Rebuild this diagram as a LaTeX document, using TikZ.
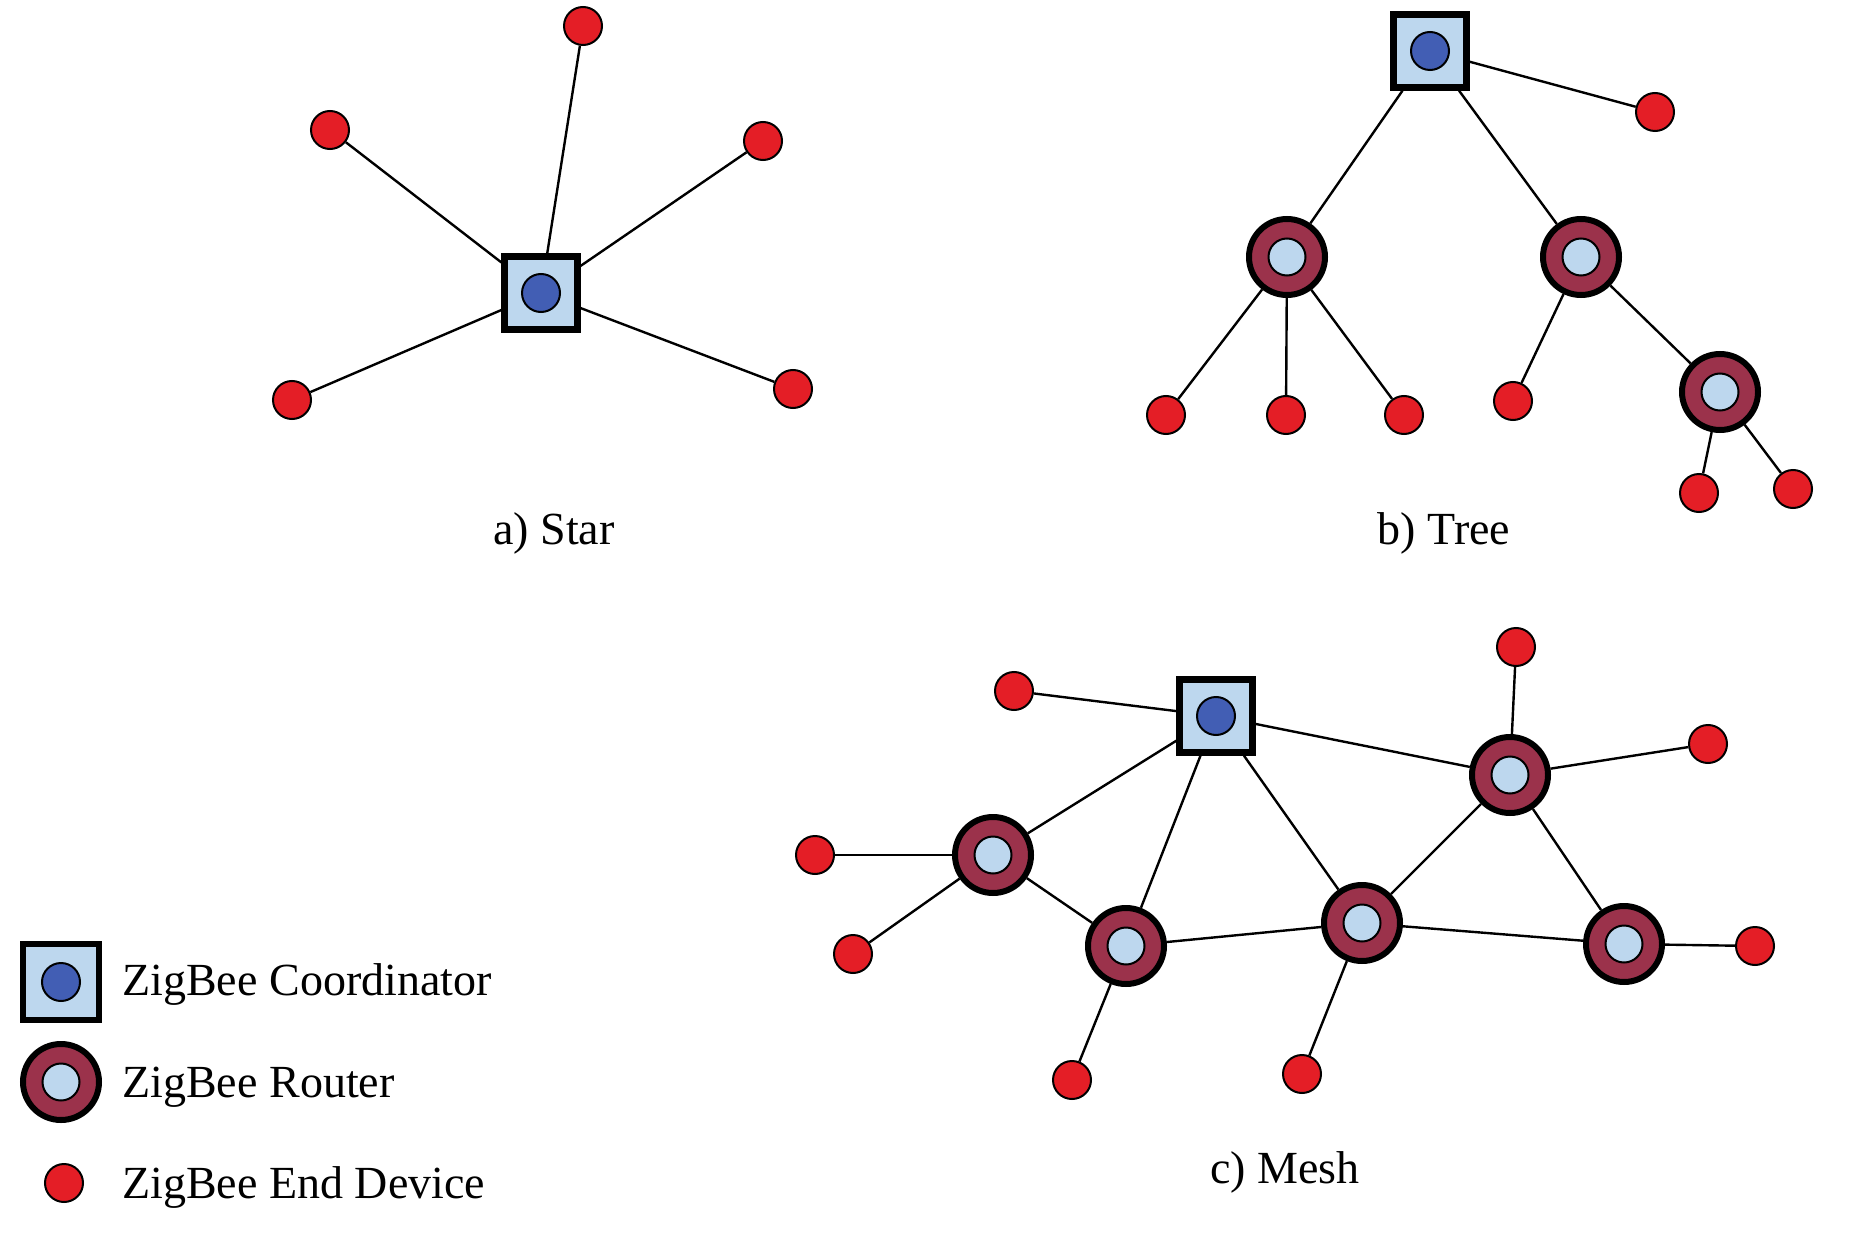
\documentclass[tikz,border=0pt]{standalone}
\usepackage{fontspec}
\setmainfont{Liberation Serif}
\usetikzlibrary{backgrounds}
\definecolor{zbpale}{RGB}{189,215,238}
\definecolor{zbblue}{RGB}{66,94,180}
\definecolor{zbwine}{RGB}{155,50,75}
\definecolor{zbred}{RGB}{228,30,38}

\begin{document}
\begin{tikzpicture}[
      x=0.5pt,y=-0.5pt,
      every node/.style={inner sep=0pt},
      zbcoord/.style={draw,line width=3.2pt,fill=zbpale,minimum size=36.5pt,
        path picture={\draw[line width=1pt,fill=zbblue]
          (path picture bounding box.center) circle (9.5pt);}},
      router/.style={circle,draw,line width=3pt,fill=zbwine,minimum size=38pt,
        path picture={\draw[line width=1pt,fill=zbpale]
          (path picture bounding box.center) circle (9.25pt);}},
      enddev/.style={circle,draw,line width=1pt,fill=zbred,minimum size=19pt},
      link/.style={line width=1.2pt},
      lbl/.style={font=\fontsize{23}{27}\selectfont}
    ]
      \useasboundingbox (0,0) rectangle (1869,1241);

      % a) star
      \node[zbcoord] (s) at (541,293) {};
      \node[enddev] (s1) at (583,26) {};
      \node[enddev] (s2) at (330,130) {};
      \node[enddev] (s3) at (763,141) {};
      \node[enddev] (s4) at (292,400) {};
      \node[enddev] (s5) at (793,389) {};
      \node[lbl,anchor=base] (sl) at (554,544) {a) Star};

      % b) tree
      \node[zbcoord] (t) at (1430,51) {};
      \node[enddev] (t0) at (1655,112) {};
      \node[router] (ta) at (1287,257) {};
      \node[router] (tb) at (1581,257) {};
      \node[enddev] (ta1) at (1166,415) {};
      \node[enddev] (ta2) at (1286,415) {};
      \node[enddev] (ta3) at (1404,415) {};
      \node[enddev] (tb1) at (1513,401) {};
      \node[router] (tc) at (1720,392) {};
      \node[enddev] (tc1) at (1699,493) {};
      \node[enddev] (tc2) at (1793,489) {};
      \node[lbl,anchor=base] (tl) at (1444,544) {b) Tree};

      % c) mesh
      \node[zbcoord] (m) at (1216,716) {};
      \node[enddev] (m0) at (1014,691) {};
      \node[router] (ma) at (993,855) {};
      \node[router] (mb) at (1126,946) {};
      \node[router] (mc) at (1362,923) {};
      \node[router] (md) at (1510,775) {};
      \node[router] (me) at (1624,944) {};
      \node[enddev] (ma1) at (815,855) {};
      \node[enddev] (ma2) at (853,954) {};
      \node[enddev] (mb1) at (1072,1080) {};
      \node[enddev] (mc1) at (1302,1074) {};
      \node[enddev] (md1) at (1516,647) {};
      \node[enddev] (md2) at (1708,744) {};
      \node[enddev] (me1) at (1755,946) {};
      \node[lbl,anchor=base] (ml) at (1285,1183) {c) Mesh};

      % legend
      \node[zbcoord,minimum size=38pt] (kc) at (61,982) {};
      \node[router] (kr) at (61,1082) {};
      \node[enddev] (ke) at (64,1183) {};
      \node[lbl,anchor=base west] at (122,995) {ZigBee Coordinator};
      \node[lbl,anchor=base west] at (122,1097) {ZigBee Router};
      \node[lbl,anchor=base west] at (122,1198) {ZigBee End Device};

      \begin{scope}[on background layer]
        \foreach \a/\b in {s/s1,s/s2,s/s3,s/s4,s/s5,
            t/t0,t/ta,t/tb,ta/ta1,ta/ta2,ta/ta3,tb/tb1,tb/tc,tc/tc1,tc/tc2,
            m/m0,m/ma,m/mb,m/mc,m/md,ma/ma1,ma/ma2,ma/mb,mb/mb1,mb/mc,
            mc/mc1,mc/md,mc/me,md/md1,md/md2,md/me,me/me1}
          \draw[link] (\a) -- (\b);
      \end{scope}
    \end{tikzpicture}
\end{document}
